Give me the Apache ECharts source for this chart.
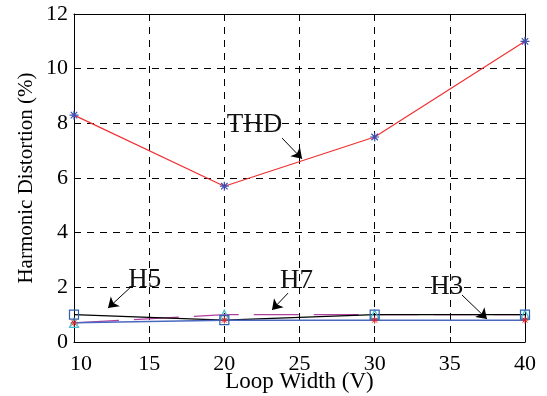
<!DOCTYPE html>
<html><head><meta charset="utf-8">
<script src="https://cdn.jsdelivr.net/npm/echarts@6/dist/echarts.min.js"></script>
<style>html,body{margin:0;padding:0;background:#fff}#c{width:547px;height:396px}</style>
</head><body><div id="c"></div>
<script>
const loopWidth = [10, 20, 30, 40];
const thd = [8.3, 5.7, 7.5, 11.0];
const h5 = [1.0, 0.8, 1.0, 1.0];
const h7 = [0.7, 1.0, 1.0, 1.0];
const h3 = [0.7, 0.8, 0.8, 0.8];
const xTicks = [10, 15, 20, 25, 30, 35, 40];
const yTicks = [0, 2, 4, 6, 8, 10, 12];
// annotations: label, text position, arrow start, arrow end (data units)
const annLabels = ['THD', 'H5', 'H7', 'H3'];
const annText = [[22.0, 7.95], [14.7, 2.27], [24.8, 2.23], [34.8, 2.0]];
const annFrom = [[23.84, 7.46], [13.72, 1.98], [24.24, 1.79], [35.81, 1.72]];
const annTo = [[25.17, 6.70], [12.26, 1.24], [23.17, 1.17], [37.47, 0.84]];

const FONT = 'Liberation Serif';
const star = 'path://M0,-5L0,5M-5,0L5,0M-3.6,-3.6L3.6,3.6M-3.6,3.6L3.6,-3.6';
const pair = (xs, ys) => xs.map((x, i) => [x, ys[i]]);

const chart = echarts.init(document.getElementById('c'), null, {renderer: 'canvas'});
const splitStyle = {show: true, lineStyle: {color: '#000', type: [7, 6], width: 1}};
const tickStyle = {show: true, inside: true, length: 5, lineStyle: {color: '#000'}};
const lineAxis = {show: true, onZero: false, lineStyle: {color: '#000', width: 1}};
chart.setOption({
  animation: false,
  backgroundColor: '#fff',
  grid: {left: 74, right: 22, top: 14, bottom: 54, containLabel: false, outerBoundsMode: 'none'},
  xAxis: [
    {type: 'value', min: 10, max: 40, interval: 5,
     axisLine: lineAxis, axisTick: tickStyle, splitLine: splitStyle,
     name: 'Loop Width (V)', nameLocation: 'middle', nameGap: 28, nameMoveOverlap: false,
     nameTextStyle: {color: '#000', fontFamily: FONT, fontSize: 23},
     axisLabel: {color: '#000', fontFamily: FONT, fontSize: 22, margin: 11,
       formatter: v => v === xTicks[0] ? '{m|' + v + '}' : '' + v,
       rich: {m: {fontFamily: FONT, fontSize: 22, color: '#000', padding: [0, 0, 0, 14]}}}},
    {type: 'value', position: 'top', min: 10, max: 40, interval: 5,
     axisLine: lineAxis, axisTick: tickStyle,
     axisLabel: {show: false}, splitLine: {show: false}}
  ],
  yAxis: [
    {type: 'value', min: 0, max: 12, interval: 2,
     axisLine: lineAxis, axisTick: tickStyle, splitLine: splitStyle,
     name: 'Harmonic Distortion (%)', nameLocation: 'middle', nameGap: 37, nameMoveOverlap: false,
     nameTextStyle: {color: '#000', fontFamily: FONT, fontSize: 21},
     axisLabel: {color: '#000', fontFamily: FONT, fontSize: 22, margin: 6}},
    {type: 'value', position: 'right', min: 0, max: 12, interval: 2,
     axisLine: lineAxis, axisTick: tickStyle,
     axisLabel: {show: false}, splitLine: {show: false}}
  ],
  series: [
    {name: 'H7', type: 'line', data: pair(loopWidth, h7),
     lineStyle: {color: '#b040a0', width: 1.2, type: [45, 15]},
     symbol: 'triangle', symbolSize: 9,
     itemStyle: {color: 'rgba(0,0,0,0)', borderColor: '#40c0d0', borderWidth: 1.2}},
    {name: 'H5', type: 'line', data: pair(loopWidth, h5),
     lineStyle: {color: '#000', width: 1.2},
     symbol: 'rect', symbolSize: 9,
     itemStyle: {color: 'rgba(0,0,0,0)', borderColor: '#3060b0', borderWidth: 1.2}},
    {name: 'H3', type: 'line', data: pair(loopWidth, h3),
     lineStyle: {color: '#4a68c0', width: 1.5},
     symbol: star, symbolSize: 7,
     itemStyle: {color: 'rgba(0,0,0,0)', borderColor: '#e02020', borderWidth: 1}},
    {name: 'THD', type: 'line', data: pair(loopWidth, thd),
     lineStyle: {color: '#f03030', width: 1.2},
     symbol: star, symbolSize: 9,
     itemStyle: {color: 'rgba(0,0,0,0)', borderColor: '#4050b0', borderWidth: 1.2},
     markLine: {
       silent: true, animation: false,
       symbol: ['none', 'arrow'], symbolSize: 10,
       lineStyle: {color: '#000', type: 'solid', width: 1},
       itemStyle: {color: '#000'},
       label: {show: false},
       emphasis: {disabled: true},
       data: annFrom.map((f, i) => [{coord: f, itemStyle: {color: '#000'}}, {coord: annTo[i], itemStyle: {color: '#000'}}])
     },
     markPoint: {
       silent: true, animation: false, symbol: 'circle', symbolSize: 1,
       itemStyle: {color: 'rgba(0,0,0,0)'},
       label: {show: true, position: 'inside', color: '#111', fontFamily: FONT, fontSize: 27,
               formatter: p => p.name},
       data: annLabels.map((n, i) => ({name: n, coord: annText[i]}))
     }}
  ]
});
</script></body></html>
